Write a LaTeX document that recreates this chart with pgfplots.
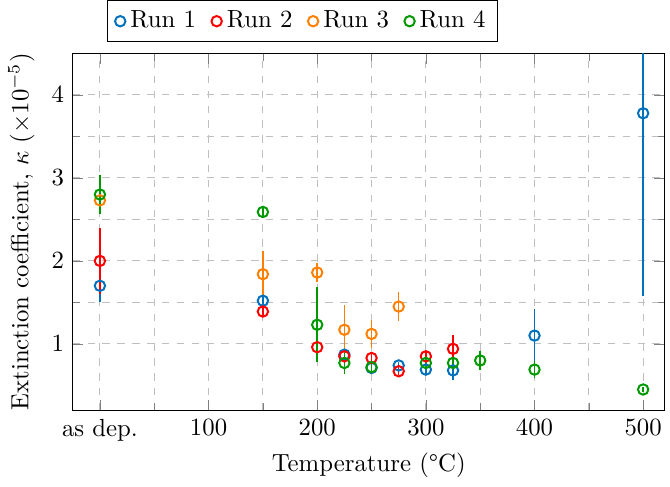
\documentclass[border=0pt]{standalone}
\usepackage{pgfplots}
\pgfplotsset{compat=1.18}
\usepackage{pgfplotstable}
\definecolor{cA}{RGB}{0,114,189}
\definecolor{cB}{RGB}{255,0,0}
\definecolor{cC}{RGB}{255,128,0}
\definecolor{cD}{RGB}{0,153,0}
\pgfplotsset{run/.style={#1, only marks, mark=o, mark size=2.1pt, line width=0.8pt,
    error bars/y dir=both, error bars/y explicit, error bars/error mark=none,
    error bars/error bar style={#1, line width=0.6pt}}}
\pgfplotstableread{
x y e
0 1.70 0.20
150 1.52 0.05
225 0.87 0.05
250 0.71 0.05
275 0.74 0.04
300 0.69 0.05
325 0.68 0.11
400 1.10 0.32
500 3.78 2.20
}\runA
\pgfplotstableread{
x y e
0 2.00 0.40
150 1.39 0.05
200 0.96 0.10
225 0.85 0.05
250 0.83 0.05
275 0.67 0.04
300 0.85 0.05
325 0.94 0.17
}\runB
\pgfplotstableread{
x y e
0 2.73 0.10
150 1.84 0.28
200 1.86 0.12
225 1.17 0.30
250 1.12 0.17
275 1.45 0.18
}\runC
\pgfplotstableread{
x y e
0 2.80 0.23
150 2.59 0.05
200 1.23 0.45
225 0.77 0.13
250 0.72 0.05
300 0.77 0.05
325 0.77 0.05
350 0.80 0.11
400 0.69 0.10
500 0.45 0.03
}\runD
\begin{document}
\begin{tikzpicture}
\begin{axis}[
  scale only axis,
  width=239pt, height=144pt,
  xmin=-25, xmax=520, ymin=0.2, ymax=4.5,
  xtick={0,100,200,300,400,500},
  xticklabels={as dep.,100,200,300,400,500},
  ytick={1,2,3,4},
  minor x tick num=1, minor y tick num=1,
  grid=both,
  major grid style={dashed, gray!50},
  minor grid style={dashed, gray!50},
  xlabel={Temperature (\textdegree{}C)},
  xlabel style={yshift=2pt},
  ylabel={Extinction coefficient, $\kappa$ ($\times10^{-5}$)},
  legend columns=-1,
  legend style={at={(0.058,1.031)}, anchor=south west, draw=black, inner ysep=2.2pt,
    /tikz/every even column/.append style={column sep=4.2pt}},
  legend image code/.code={\draw[mark repeat=2,mark phase=2,#1] plot coordinates {(0cm,0cm) (0.12cm,0cm) (0.24cm,0cm)};},
]
\addplot[run=cA] table[x=x, y=y, y error=e] {\runA};
\addlegendentry{Run 1}
\addplot[run=cB] table[x=x, y=y, y error=e] {\runB};
\addlegendentry{Run 2}
\addplot[run=cC] table[x=x, y=y, y error=e] {\runC};
\addlegendentry{Run 3}
\addplot[run=cD] table[x=x, y=y, y error=e] {\runD};
\addlegendentry{Run 4}
\end{axis}
\end{tikzpicture}
\end{document}
